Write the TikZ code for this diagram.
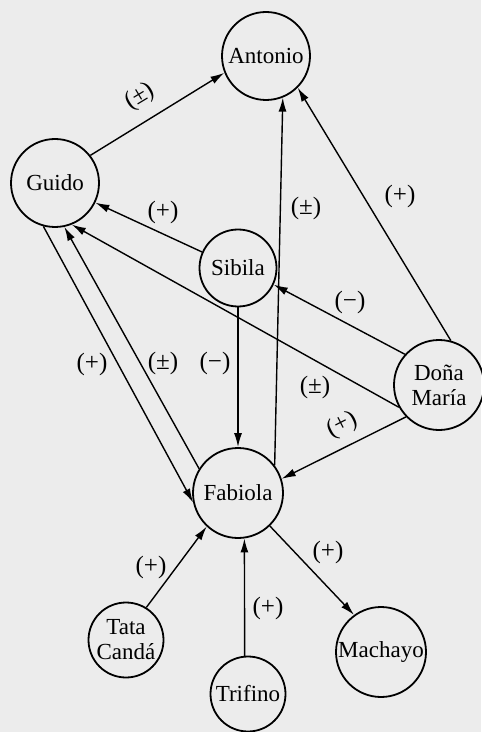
\documentclass[tikz,border=0pt]{standalone}
\usepackage{fontspec}
\setmainfont{Liberation Serif}
\usetikzlibrary{arrows.meta}
\definecolor{paper}{RGB}{236,236,236}
\tikzset{
  person/.style={draw, circle, line width=0.9pt, inner sep=0pt, font=\fontsize{11.5}{13.5}\selectfont, align=center},
  rel/.style={line width=0.7pt, -{Latex[length=7pt,width=4pt]}},
  sign/.style={font=\fontsize{12.5}{14}\selectfont, inner sep=0pt}
}
\begin{document}
\begin{tikzpicture}[x=0.5pt,y=-0.5pt]
\fill[paper] (0,0) rectangle (481,732);
\useasboundingbox (0,0) rectangle (481,732);
\node[person, minimum size=44pt] (ant) at (266,56) {Antonio};
\node[person, minimum size=44pt] (gui) at (55,183) {Guido};
\node[person, minimum size=38.5pt] (sib) at (238,268) {Sibila};
\node[person, minimum size=45pt] (dm) at (439,385) {Doña\\[-1pt]María};
\node[person, minimum size=45pt] (fab) at (238,493) {Fabiola};
\node[person, minimum size=37.5pt] (tat) at (126,640) {Tata\\[-1pt]Candá};
\node[person, minimum size=37.5pt] (tri) at (248,694) {Trifino};
\node[person, minimum size=45pt] (mac) at (381,652) {Machayo};

\draw[rel] (gui.38) -- (ant.202);
\node[sign, rotate=31] (l1) at (140,97) {(±)};
\draw[rel] (sib.156) -- (gui.-26);
\node[sign] (l2) at (163,212) {(+)};
\draw[rel] (fab.37.6) -- (ant.-68);
\node[sign] (l3) at (306,208) {(±)};
\draw[rel] (dm.75) -- (ant.-45);
\node[sign] (l4) at (400,196) {(+)};
\draw[rel] (dm.138) -- (sib.-25);
\node[sign] (l5) at (350,302) {(\char"2212)};
\draw[rel] (dm.209) -- (gui.-68);
\node[sign] (l6) at (315,387) {(±)};
\draw[rel] (dm.224) -- (fab.18);
\node[sign, rotate=27] (l7) at (342,425) {(+)};
\draw[rel] (sib.-90) -- (fab.90);
\node[sign] (l8) at (215,363) {(\char"2212)};
\draw[rel] (gui.-105) -- (fab.192);
\node[sign] (l9) at (92,364) {(+)};
\draw[rel] (fab.148) -- (gui.-78);
\node[sign] (l10) at (163,363) {(±)};
\draw[rel] (tat.58) -- (fab.227);
\node[sign] (l11) at (151,567) {(+)};
\draw[rel] (tri.95) -- (fab.-82);
\node[sign] (l12) at (268,608) {(+)};
\draw[rel] (fab.-46) -- (mac.126);
\node[sign] (l13) at (328,552) {(+)};
\end{tikzpicture}
\end{document}
